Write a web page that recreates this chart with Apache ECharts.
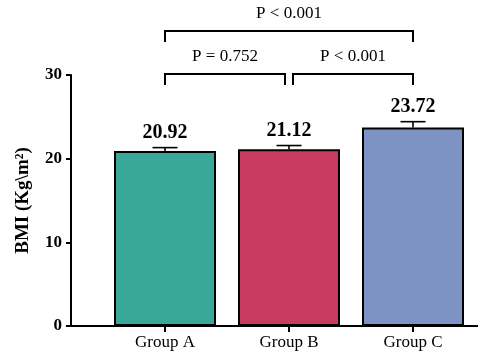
<!DOCTYPE html>
<html>
<head>
<meta charset="utf-8">
<script src="https://cdn.jsdelivr.net/npm/echarts@6/dist/echarts.min.js"></script>
<style>
  html, body { margin: 0; padding: 0; background: #fff; }
  #chart { width: 478px; height: 353px; }
</style>
</head>
<body>
<div id="chart"></div>
<script>
// BMI by group: mean with error bar, plus pairwise significance brackets
const groups = ['Group A', 'Group B', 'Group C'];
const bmiMean = [20.92, 21.12, 23.72];
const bmiError = [0.4, 0.45, 0.7];
const barColors = ['#3aa898', '#c83a60', '#7d93c4'];
const yMin = 0, yMax = 30, yStep = 10;
// [from group, to group, bracket level, p-value text]
const comparisons = [
  [0, 1, 0, 'P = 0.752'],
  [1, 2, 0, 'P < 0.001'],
  [0, 2, 1, 'P < 0.001']
];

const SERIF = '"Liberation Serif", "Times New Roman", serif';
const chart = echarts.init(document.getElementById('chart'));

const barData = bmiMean.map((v, i) => ({ value: v, itemStyle: { color: barColors[i] } }));
const errData = bmiMean.map((v, i) => [i, v, bmiError[i]]);

chart.setOption({
  animation: false,
  backgroundColor: '#ffffff',
  grid: [
    { left: 103, right: 3, top: 75, bottom: 27 },
    { left: 71, right: 0, top: 75, bottom: 27 }
  ],
  xAxis: [
    {
      type: 'category', gridIndex: 0, data: groups,
      axisLine: { show: false },
      axisTick: { show: true, alignWithLabel: true, length: 6, lineStyle: { color: '#000', width: 2 } },
      axisLabel: { color: '#000', fontFamily: SERIF, fontSize: 17, margin: 8 }
    },
    {
      type: 'value', gridIndex: 1, min: 0, max: 1,
      axisLine: { show: true, lineStyle: { color: '#000', width: 2 } },
      axisTick: { show: false }, axisLabel: { show: false }, splitLine: { show: false }
    }
  ],
  yAxis: [
    {
      type: 'value', gridIndex: 0, min: yMin, max: yMax, interval: yStep, offset: 32,
      name: 'BMI (Kg\\m²)', nameLocation: 'middle', nameGap: 38, nameRotate: 90,
      nameTextStyle: { color: '#000', fontFamily: SERIF, fontWeight: 'bold', fontSize: 19 },
      axisLine: { show: true, lineStyle: { color: '#000', width: 2 } },
      axisTick: { show: true, length: 5, lineStyle: { color: '#000', width: 2 } },
      axisLabel: { color: '#000', fontFamily: SERIF, fontWeight: 'bold', fontSize: 17, margin: 9 },
      splitLine: { show: false }
    },
    { type: 'value', gridIndex: 1, show: false, min: 0, max: 1 }
  ],
  series: [
    {
      type: 'bar', xAxisIndex: 0, yAxisIndex: 0, data: barData, barWidth: 102,
      itemStyle: { borderColor: '#000', borderWidth: 2 }
    },
    {
      // error bars with the mean written above each one
      type: 'custom', xAxisIndex: 0, yAxisIndex: 0, clip: false, z: 5,
      data: errData,
      renderItem: function (params, api) {
        const i = api.value(0), mean = api.value(1), err = api.value(2);
        const base = api.coord([i, mean]);
        const top = api.coord([i, mean + err]);
        const lineStyle = { stroke: '#000', lineWidth: 1.6 };
        return {
          type: 'group',
          children: [
            { type: 'line', shape: { x1: base[0], y1: base[1], x2: top[0], y2: top[1] }, style: lineStyle },
            { type: 'line', shape: { x1: top[0] - 12.5, y1: top[1], x2: top[0] + 12.5, y2: top[1] }, style: lineStyle },
            {
              type: 'text',
              style: {
                text: mean.toFixed(2), x: top[0], y: top[1] - 15,
                fill: '#000', font: 'bold 20px ' + SERIF,
                textAlign: 'center', textVerticalAlign: 'middle', align: 'center', verticalAlign: 'middle'
              }
            }
          ]
        };
      }
    },
    {
      // significance brackets above the plot
      type: 'custom', xAxisIndex: 0, yAxisIndex: 0, clip: false, z: 5,
      encode: { x: 0, y: -1 },
      data: comparisons.map(c => [c[0], c[1], c[2]]),
      renderItem: function (params, api) {
        const from = api.value(0), to = api.value(1), level = api.value(2);
        const label = comparisons[params.dataIndex][3];
        const plotTop = params.coordSys.y;
        const last = groups.length - 1;
        let x1 = api.coord([from, yMin])[0];
        let x2 = api.coord([to, yMin])[0];
        if (level === 0) {
          if (from !== 0) x1 += 4;
          if (to !== last) x2 -= 4;
        }
        const yb = plotTop - 1 - level * 43;
        const leg = 11;
        return {
          type: 'group',
          children: [
            {
              type: 'polyline',
              shape: { points: [[x1, yb + leg], [x1, yb], [x2, yb], [x2, yb + leg]] },
              style: { stroke: '#000', lineWidth: 2, fill: null }
            },
            {
              type: 'text',
              style: {
                text: label, x: (x1 + x2) / 2, y: yb - 17,
                fill: '#000', font: '17px ' + SERIF,
                textAlign: 'center', textVerticalAlign: 'middle', align: 'center', verticalAlign: 'middle'
              }
            }
          ]
        };
      }
    }
  ]
});
</script>
</body>
</html>
